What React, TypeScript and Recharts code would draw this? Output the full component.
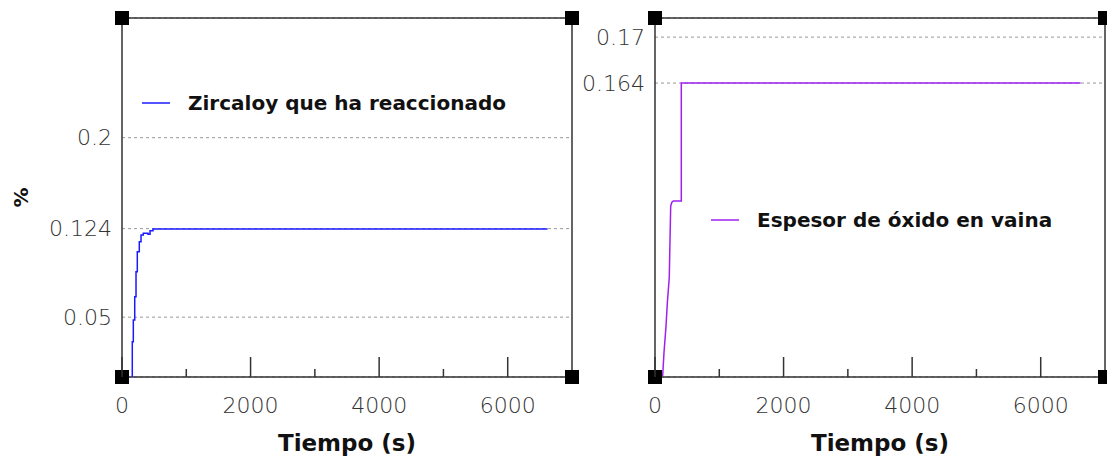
import React from 'react';
import {
  LineChart,
  Line,
  XAxis,
  YAxis,
  CartesianGrid,
  ReferenceArea,
  ReferenceDot,
  Legend,
} from 'recharts';

const FONT = "'DejaVu Sans', sans-serif";

// Zircaloy que ha reaccionado (%)
const zircTime = [160, 160, 176, 198, 218, 238, 269, 296, 331, 404, 436, 482, 6620];
const zircValue = [0, 0.0295, 0.0476, 0.0671, 0.088, 0.1047, 0.1131, 0.1187, 0.1201, 0.1193, 0.1223, 0.1237, 0.1237];

// Espesor de óxido en vaina
const oxideTime = [119, 140, 171, 192, 222, 244, 260, 285, 409, 409, 6620];
const oxideValue = [0.1257, 0.1288, 0.1322, 0.1353, 0.1386, 0.1479, 0.1484, 0.1486, 0.1486, 0.164, 0.164];

const xTicks = [0, 1000, 2000, 3000, 4000, 5000, 6000];
const xLabelled = [0, 2000, 4000, 6000];
const xDomain = [0, 7000];
const leftYTicks = [0.05, 0.124, 0.2];
const leftYDomain = [0, 0.3];
const rightYTicks = [0.164, 0.17];
const rightYDomain = [0.1256, 0.1725];

const zircData = zircTime.map((t, i) => ({ t, v: zircValue[i] }));
const oxideData = oxideTime.map((t, i) => ({ t, v: oxideValue[i] }));

const Square = (props: any) => (
  <rect x={props.cx - 7} y={props.cy - 7} width={14} height={14} fill="#000" />
);

const XTick = (props: any) => {
  const { x, y, payload } = props;
  const major = xLabelled.includes(payload.value);
  return (
    <g>
      <line x1={x} y1={y} x2={x} y2={y - (major ? 20 : 8)} stroke="#333" strokeWidth={1.5} />
      {major && (
        <text x={x} y={y + 36} textAnchor="middle" fill="#333" fontSize={22} fontFamily={FONT} fontWeight={200}>
          {payload.value}
        </text>
      )}
    </g>
  );
};

const legendContent = (label: string, color: string) => () => (
  <div style={{ display: 'flex', alignItems: 'center', height: 24, whiteSpace: 'nowrap' }}>
    <svg width={28} height={24}>
      <line x1={0} y1={12} x2={28} y2={12} stroke={color} strokeWidth={1.5} />
    </svg>
    <span style={{ marginLeft: 18, fontFamily: FONT, fontWeight: 'bold', fontSize: 20, color: '#111', lineHeight: '24px' }}>
      {label}
    </span>
  </div>
);

const xTitle = (props: any) => {
  const { viewBox } = props;
  return (
    <text x={viewBox.x + viewBox.width / 2} y={viewBox.y + 74} textAnchor="middle" fill="#111" fontSize={23} fontWeight="bold" fontFamily={FONT}>
      Tiempo (s)
    </text>
  );
};

const yTickStyle = { fill: '#333', fontSize: 22, fontFamily: FONT, fontWeight: 200 };

interface PanelProps {
  data: { t: number; v: number }[];
  yTicks: number[];
  yDomain: number[];
  yWidth: number;
  width: number;
  color: string;
  label: string;
  legendPos: { left: number; top: number };
  step: boolean;
  showPercent?: boolean;
}

const Panel: React.FC<PanelProps> = ({ data, yTicks, yDomain, yWidth, width, color, label, legendPos, step, showPercent }) => {
  const [x0, x1] = xDomain;
  const [y0, y1] = yDomain;
  return (
    <LineChart width={width} height={459} data={data} margin={{ top: 18, right: width - yWidth - 450, bottom: 0, left: 0 }}>
      <CartesianGrid vertical={false} stroke="#999" strokeDasharray="3 3" />
      <XAxis
        type="number"
        dataKey="t"
        domain={xDomain}
        ticks={xTicks}
        interval={0}
        height={82}
        axisLine={false}
        tickLine={false}
        tickSize={0}
        tickMargin={0}
        tick={<XTick />}
        allowDataOverflow
        label={xTitle}
      />
      <YAxis
        type="number"
        domain={yDomain}
        ticks={yTicks}
        interval={0}
        width={yWidth}
        axisLine={false}
        tickLine={false}
        tickSize={0}
        tickMargin={10}
        tick={yTickStyle}
        allowDataOverflow
        label={
          showPercent
            ? (p: any) => (
                <text
                  x={21}
                  y={p.viewBox.y + p.viewBox.height / 2}
                  transform={`rotate(-90 21 ${p.viewBox.y + p.viewBox.height / 2})`}
                  textAnchor="middle"
                  dominantBaseline="central"
                  fill="#111"
                  fontSize={20}
                  fontWeight="bold"
                  fontFamily={FONT}
                >
                  %
                </text>
              )
            : undefined
        }
      />
      <ReferenceArea x1={x0} x2={x1} y1={y0} y2={y1} fill="none" stroke="#333" strokeWidth={1.5} ifOverflow="visible" />
      <Line
        type={step ? 'stepAfter' : 'linear'}
        dataKey="v"
        stroke={color}
        strokeWidth={1.5}
        dot={false}
        isAnimationActive={false}
      />
      <ReferenceDot x={x0} y={y0} r={7} shape={Square} ifOverflow="visible" />
      <ReferenceDot x={x1} y={y0} r={7} shape={Square} ifOverflow="visible" />
      <ReferenceDot x={x0} y={y1} r={7} shape={Square} ifOverflow="visible" />
      <ReferenceDot x={x1} y={y1} r={7} shape={Square} ifOverflow="visible" />
      <Legend
        layout="horizontal"
        align="center"
        verticalAlign="middle"
        content={legendContent(label, color)}
        wrapperStyle={{ left: legendPos.left, top: legendPos.top, width: 'auto' }}
      />
    </LineChart>
  );
};

export default function App() {
  return (
    <div style={{ position: 'absolute', left: 0, top: 0, width: 1107, height: 459, background: '#fff', overflow: 'hidden' }}>
      <div style={{ position: 'absolute', left: 0, top: 0 }}>
        <Panel
          data={zircData}
          yTicks={leftYTicks}
          yDomain={leftYDomain}
          yWidth={122}
          width={600}
          color="#1a1aff"
          label="Zircaloy que ha reaccionado"
          legendPos={{ left: 142, top: 91 }}
          step
          showPercent
        />
      </div>
      <div style={{ position: 'absolute', left: 573, top: 0 }}>
        <Panel
          data={oxideData}
          yTicks={rightYTicks}
          yDomain={rightYDomain}
          yWidth={82}
          width={540}
          color="#a020f0"
          label="Espesor de óxido en vaina"
          legendPos={{ left: 138, top: 208 }}
          step={false}
        />
      </div>
    </div>
  );
}
